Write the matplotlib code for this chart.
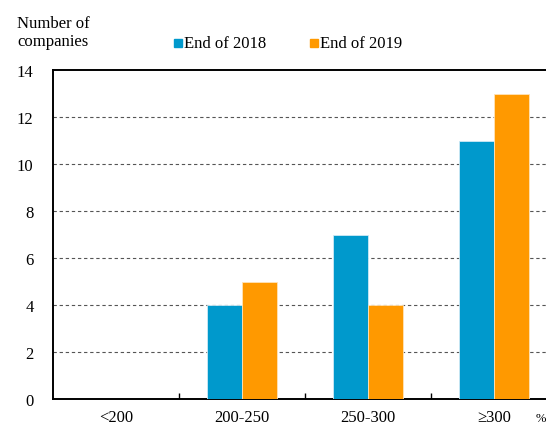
import matplotlib
matplotlib.use("Agg")
import matplotlib.pyplot as plt
import matplotlib.transforms as mtransforms
import numpy as np

categories = ["<200", "200-250", "250-300", "\u2265300"]
end_2018 = [0, 4, 7, 11]
end_2019 = [0, 5, 4, 13]
series_labels = ["End of 2018", "End of 2019"]
y_ticks = [0, 2, 4, 6, 8, 10, 12, 14]

blue = "#0099CC"
orange = "#FF9900"

plt.rcParams["font.family"] = ["Liberation Serif", "DejaVu Serif"]

fig = plt.figure(figsize=(5.46, 4.27), dpi=100)
ax = fig.add_axes([53 / 546, 27 / 427, 504 / 546, 329 / 427])

x = np.arange(len(categories))
w = 0.28
ax.bar(x, end_2018, width=w, align="edge", color=blue, edgecolor="#CFEAF5",
       linewidth=0.6, zorder=3)
ax.bar(x + w, end_2019, width=w, align="edge", color=orange, edgecolor="#FFE3B8",
       linewidth=0.6, zorder=3)

ax.set_xlim(-0.22, 3.78)
ax.set_ylim(0, 14)
ax.set_yticks(y_ticks)
ax.set_yticklabels([str(v) for v in y_ticks], fontsize=12)
ax.tick_params(axis="y", length=0, pad=14)

# category boundaries as small inward ticks
ax.set_xticks(x[1:] - 0.22)
ax.set_xticklabels([])
ax.tick_params(axis="x", direction="in", length=4, width=1)
label_tf = mtransforms.blended_transform_factory(ax.transData, fig.transFigure)
for xi, lab in zip(x + w, categories):
    ax.text(xi, 5 / 427, lab, ha="center", va="baseline", fontsize=12,
            transform=label_tf, clip_on=False)

for yv in y_ticks[1:-1]:
    ax.axhline(yv, color="#555555", linestyle=(0, (3, 2.5)), linewidth=0.8, zorder=1)

for s in ax.spines.values():
    s.set_linewidth(1.4)
    s.set_color("black")
ax.spines["right"].set_visible(False)

fig.text(17 / 546, 1 - 33 / 427, "Number of\ncompanies", fontsize=12,
         ha="left", va="center", linespacing=1.2)

# legend
for lab, col, x0 in zip(series_labels, [blue, orange], [174, 310]):
    fig.patches.append(plt.Rectangle((x0 / 546, 1 - 48 / 427), 8 / 546, 8 / 427,
                                     transform=fig.transFigure, color=col))
    fig.text((x0 + 10) / 546, 1 - 44 / 427, lab, fontsize=12, ha="left", va="center")

fig.text(541 / 546, 5 / 427, "%", fontsize=9, ha="center", va="baseline")

fig.savefig("out.png", dpi=100)
